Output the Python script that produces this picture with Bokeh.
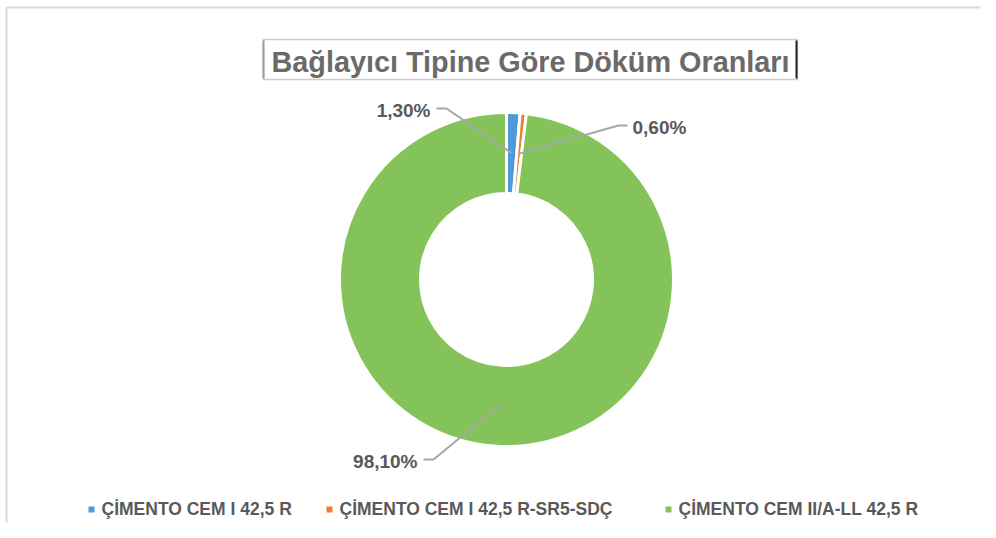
import math
from bokeh.plotting import figure
from bokeh.models import Range1d, ColumnDataSource
from bokeh.core.properties import value
from bokeh.embed import file_html
from bokeh.resources import INLINE

# ---- data ----
categories = ["ÇİMENTO CEM I 42,5 R", "ÇİMENTO CEM I 42,5 R-SR5-SDÇ", "ÇİMENTO CEM II/A-LL 42,5 R"]
shares = [1.30, 0.60, 98.10]
colors = ["#4E9AD8", "#ED7D31", "#84C35A"]
title_text = "Bağlayıcı Tipine Göre Döküm Oranları"

# ---- layout / style ----
W, H = 980, 522
FONT = "Liberation Sans"
TXT = "#595959"
cx, cy = 506, 243
r_in, r_out = 86, 167
# label text anchor offsets relative to the donut centre (x, y) and alignment
label_pos = [(-76, 169, "right"), (126, 152, "left"), (-89, -182, "right")]
leader_elbow = [10, -9, 10]   # horizontal elbow length from text side
leader_gap = [6, -5, 6]

p = figure(width=W, height=H, x_range=Range1d(0, W), y_range=Range1d(0, H),
           output_backend="svg", toolbar_location=None,
           x_axis_type=None, y_axis_type=None, min_border=0,
           outline_line_color=None, background_fill_color="white")
p.grid.visible = False

# chart-area border (top and left visible)
p.segment(x0=[6, 6], y0=[515, 0], x1=[W, 6], y1=[515, 515],
          line_color="#d9d9d9", line_width=2)

# donut
total = sum(shares)
starts, ends, mids = [], [], []
acc = 0.0
for v in shares:
    f0 = acc / total
    acc += v
    f1 = acc / total
    starts.append(math.pi / 2 - f0 * 2 * math.pi)
    ends.append(math.pi / 2 - f1 * 2 * math.pi)
    mids.append(math.pi / 2 - (f0 + f1) / 2 * 2 * math.pi)

src = ColumnDataSource(dict(start=starts, end=ends, color=colors, cat=categories))
p.annular_wedge(x=cx, y=cy, inner_radius=r_in, outer_radius=r_out,
                start_angle="start", end_angle="end", direction="clock",
                fill_color="color", line_color="white", line_width=3, source=src)

# data labels with leader lines
r_mid = (r_in + r_out) / 2
lx, ly, la, ltxt, xs, ys = [], [], [], [], [], []
for i, v in enumerate(shares):
    ax = cx + r_mid * math.cos(mids[i])
    ay = cy + r_mid * math.sin(mids[i])
    dx, dy, align = label_pos[i]
    tx, ty = cx + dx, cy + dy
    lx.append(tx); ly.append(ty); la.append(align)
    ltxt.append(f"{v:.2f}%".replace(".", ","))
    sx = tx + leader_gap[i]
    ex = sx + leader_elbow[i]
    lyy = ty + 2
    xs.append([sx, ex, ax]); ys.append([lyy, lyy, ay])

p.multi_line(xs=xs, ys=ys, line_color="#a6a6a6", line_width=2)
p.text(x=lx, y=ly, text=ltxt, text_align=la, text_baseline="middle",
       text_font=value(FONT), text_font_style="bold", text_font_size="19px",
       text_color=TXT)

# title box
p.quad(left=[263], right=[797], bottom=[443], top=[483], fill_color="white",
       line_color="#cccccc", line_width=1.5)
p.segment(x0=[263], y0=[444], x1=[263], y1=[482], line_color="#9a9a9a", line_width=2)
p.segment(x0=[796], y0=[444], x1=[796], y1=[482], line_color="#222222", line_width=2)
p.text(x=[530], y=[461], text=[title_text], text_align="center", text_baseline="middle",
       text_font=value(FONT), text_font_style="bold", text_font_size="28.8px",
       text_color="#6a6a6a")

# legend
leg_sq_x = [91, 329, 668]
leg_y = 13
p.rect(x=leg_sq_x, y=[leg_y] * 3, width=6, height=6, width_units="screen",
       height_units="screen", fill_color=colors, line_color=None)
p.text(x=[x + 10 for x in leg_sq_x], y=[leg_y + 1] * 3, text=categories,
       text_align="left", text_baseline="middle",
       text_font=value(FONT), text_font_style="bold", text_font_size="17.5px",
       text_color=TXT)

open("out.html", "w").write(file_html(p, INLINE))
